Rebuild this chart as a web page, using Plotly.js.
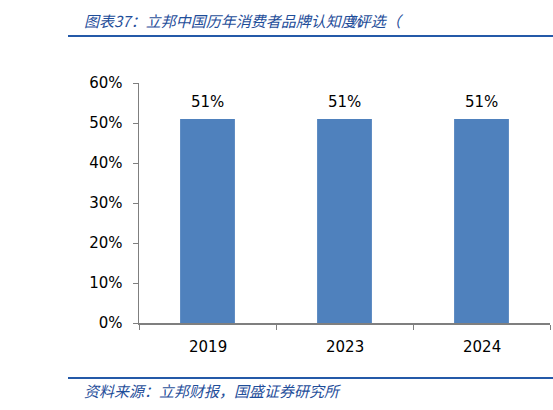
<!DOCTYPE html>
<html><head><meta charset="utf-8">
<script src="https://cdn.plot.ly/plotly-3.0.1.min.js"></script>
<style>html,body{margin:0;padding:0;background:#fff;}#chart{width:553px;height:410px;}</style>
</head><body><div id="chart"></div>
<script>
const categories = ['2019', '2023', '2024'];
const values = [51, 51, 51];
const yTicks = [0, 10, 20, 30, 40, 50, 60];
const yTickLabels = yTicks.map(v => v + '%');

const trace = {
  type: 'bar', x: categories, y: values, width: 0.4,
  marker: {color: '#4F81BD'},
  hoverinfo: 'none'
};
const valueLabels = categories.map((c, i) => ({
  x: i, y: values[i], xref: 'x', yref: 'y', yanchor: 'bottom', yshift: 6,
  showarrow: false, text: values[i] + '%',
  font: {family: 'DejaVu Sans', size: 15, color: '#000'}
}));
const categoryLabels = categories.map((c, i) => ({
  x: i, y: 0, xref: 'x', yref: 'paper', yanchor: 'top', yshift: -13,
  showarrow: false, text: c,
  font: {family: 'DejaVu Sans', size: 15, color: '#000'}
}));
const layout = {
  width: 553, height: 410, paper_bgcolor: '#fff', plot_bgcolor: '#fff',
  margin: {l: 139, r: 3, t: 83, b: 87},
  showlegend: false,
  xaxis: {type: 'category', showline: true, linecolor: '#7f7f7f', linewidth: 1.5,
    ticks: 'outside', tickson: 'boundaries', ticklen: 5, tickcolor: '#7f7f7f',
    showticklabels: false, showgrid: false, zeroline: false},
  yaxis: {range: [0, 60], tickvals: yTicks, ticktext: yTickLabels, showline: true,
    linecolor: '#7f7f7f', linewidth: 1.5, ticks: 'outside', ticklen: 5, tickcolor: '#7f7f7f',
    ticklabelstandoff: 7,
    tickfont: {family: 'DejaVu Sans', size: 15, color: '#000'}, showgrid: false, zeroline: false},
  shapes: [
    {type: 'line', xref: 'paper', yref: 'paper', x0: -71/411, x1: 414/411, y0: 1 + 47/240, y1: 1 + 47/240,
      line: {color: '#2459A8', width: 2}},
    {type: 'line', xref: 'paper', yref: 'paper', x0: -71/411, x1: 414/411, y0: -55/240, y1: -55/240,
      line: {color: '#2459A8', width: 2}}
  ],
  annotations: valueLabels.concat(categoryLabels, [
    {xref: 'paper', yref: 'paper', x: -57/411, y: 1 + 63/240, xanchor: 'left', yanchor: 'middle',
      showarrow: false, text: '<i>图表37：立邦中国历年消费者品牌认知度评选（</i>',
      font: {family: 'Noto Sans CJK SC', size: 15, color: '#1F4E9A'}},
    {xref: 'paper', yref: 'paper', x: 208/411, y: 1 + 63/240, xanchor: 'left', yanchor: 'middle',
      showarrow: false, text: '<i>%</i>',
      font: {family: 'Noto Sans CJK SC', size: 15, color: '#1F4E9A'}},
    {xref: 'paper', yref: 'paper', x: -57/411, y: -67/240, xanchor: 'left', yanchor: 'middle',
      showarrow: false, text: '<i>资料来源：立邦财报，国盛证券研究所</i>',
      font: {family: 'Noto Sans CJK SC', size: 15, color: '#1F4E9A'}}
  ])
};
Plotly.newPlot('chart', [trace], layout, {staticPlot: true, displayModeBar: false});
</script></body></html>
